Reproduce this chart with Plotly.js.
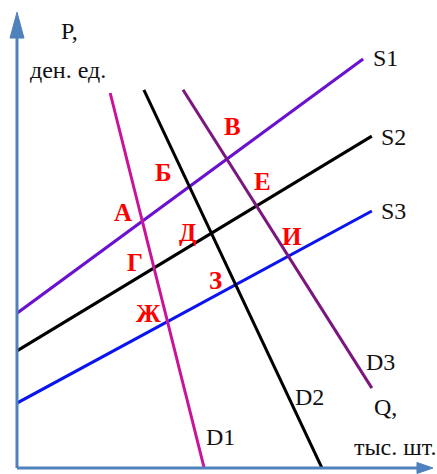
<!DOCTYPE html>
<html>
<head>
<meta charset="utf-8">
<script src="https://cdn.plot.ly/plotly-3.0.1.min.js"></script>
<style>html,body{margin:0;padding:0;background:#fff;}#chart{width:437px;height:474px;}</style>
</head>
<body>
<div id="chart"></div>
<script>
// Line endpoints (Q, P)
const lineNames = ["S1", "S2", "S3", "D1", "D2", "D3"];
const lineQ = [[0, 8.32], [0, 8.53], [0, 8.53], [2.24, 4.50], [3.05, 7.33], [3.99, 8.53]];
const lineP = [[3.41, 9.01], [2.58, 7.31], [1.43, 5.66], [8.26, 0], [8.33, 0], [8.33, 1.76]];
const lineColors = ["#6a10d0", "#000000", "#0a14f0", "#c8149c", "#000000", "#7a167e"];

// Line name labels
const nameText = ["S1", "S2", "S3", "D1", "D2", "D3"];
const nameQ = [8.87, 9.06, 9.06, 4.90, 7.02, 8.73];
const nameP = [9.03, 7.29, 5.66, 0.68, 1.56, 2.33];

// Intersection point labels
const ptText = ["А", "Б", "В", "Г", "Д", "Е", "Ж", "З", "И"];
const ptQ = [2.55, 3.51, 5.17, 2.84, 4.11, 5.89, 3.15, 4.76, 6.61];
const ptP = [5.62, 6.50, 7.53, 4.52, 5.18, 6.30, 3.41, 4.14, 5.09];

const traces = lineNames.map((n, i) => ({
  x: lineQ[i], y: lineP[i], mode: "lines", name: n,
  line: {color: lineColors[i], width: 3}, hoverinfo: "skip"
}));

const serif = "'Liberation Serif', 'DejaVu Serif', serif";
const annotations = [];
nameText.forEach((t, i) => annotations.push({
  x: nameQ[i], y: nameP[i], xref: "x", yref: "y", text: t, showarrow: false,
  xanchor: "center", yanchor: "middle",
  font: {family: serif, size: 24, color: "#111"}
}));
ptText.forEach((t, i) => annotations.push({
  x: ptQ[i], y: ptP[i], xref: "x", yref: "y", text: "<b>" + t + "</b>", showarrow: false,
  xanchor: "center", yanchor: "middle",
  font: {family: serif, size: 25, color: "#ff0000"}
}));
// Axis titles
const titleText = ["P,", "ден. ед.", "Q,", "тыс. шт."];
const titleX = [0.127, 0.123, 0.887, 0.909];
const titleY = [0.963, 0.877, 0.134, 0.046];
titleText.forEach((t, i) => annotations.push({
  x: titleX[i], y: titleY[i], xref: "paper", yref: "paper", text: t, showarrow: false,
  xanchor: "center", yanchor: "middle",
  font: {family: serif, size: 24, color: "#111"}
}));

const axisColor = "#4f81bd";
const shapes = [
  {type: "line", xref: "paper", yref: "paper", x0: 0, y0: 0, x1: 0, y1: 0.95, line: {color: axisColor, width: 3}},
  {type: "line", xref: "paper", yref: "paper", x0: 0, y0: 0, x1: 0.965, y1: 0, line: {color: axisColor, width: 3}},
  {type: "path", xref: "paper", yref: "paper", path: "M 0 1.004 L -0.0168 0.947 L 0.0168 0.947 Z",
    fillcolor: axisColor, line: {color: axisColor, width: 1}},
  {type: "path", xref: "paper", yref: "paper", path: "M 1.0 0 L 0.9615 0.0121 L 0.9615 -0.0121 Z",
    fillcolor: axisColor, line: {color: axisColor, width: 1}}
];

const layout = {
  width: 437, height: 474,
  margin: {l: 17, r: 4, t: 14, b: 6},
  paper_bgcolor: "#fff", plot_bgcolor: "#fff",
  showlegend: false,
  xaxis: {range: [0, 10], visible: false, fixedrange: true},
  yaxis: {range: [0, 10], visible: false, fixedrange: true},
  annotations: annotations,
  shapes: shapes
};
Plotly.newPlot("chart", traces, layout, {displayModeBar: false, staticPlot: true});
</script>
</body>
</html>
